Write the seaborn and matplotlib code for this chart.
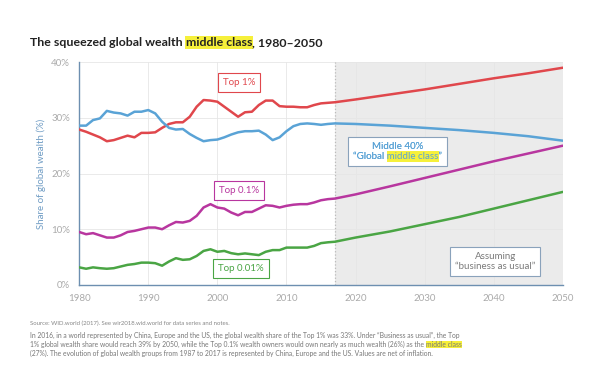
import numpy as np
import pandas as pd
import matplotlib
matplotlib.use("Agg")
import matplotlib.pyplot as plt
import seaborn as sns
from matplotlib.patches import Rectangle
from matplotlib.transforms import IdentityTransform

# data (share of global wealth, %)
years_hist = list(range(1980, 2017))
years_proj = [2017, 2020, 2025, 2030, 2035, 2040, 2045, 2050]

top1_hist = [27.9, 27.5, 27.0, 26.5, 25.8, 26.0, 26.4, 26.8, 26.5, 27.3,
             27.3, 27.4, 28.2, 28.9, 29.2, 29.2, 30.2, 32.0, 33.2, 33.1,
             32.9, 32.0, 31.1, 30.2, 31.0, 31.1, 32.3, 33.1, 33.1, 32.1,
             32.0, 32.0, 31.9, 31.9, 32.3, 32.6, 32.7]
mid40_hist = [28.6, 28.6, 29.6, 29.9, 31.25, 30.95, 30.8, 30.4, 31.1, 31.1,
              31.4, 30.8, 29.3, 28.2, 27.9, 28.0, 27.1, 26.4, 25.8, 26.0,
              26.1, 26.5, 27.0, 27.4, 27.6, 27.6, 27.7, 27.0, 26.0, 26.5,
              27.6, 28.5, 28.9, 29.0, 28.9, 28.75, 28.9]
top01_hist = [9.5, 9.1, 9.3, 8.9, 8.5, 8.5, 8.9, 9.5, 9.7, 10.0,
              10.3, 10.3, 10.0, 10.7, 11.3, 11.2, 11.5, 12.4, 13.9, 14.5,
              13.9, 13.7, 13.0, 12.5, 13.1, 13.1, 13.7, 14.3, 14.2, 13.9,
              14.2, 14.4, 14.5, 14.5, 14.8, 15.2, 15.4]
top001_hist = [3.15, 2.9, 3.15, 3.0, 2.9, 3.0, 3.3, 3.6, 3.75, 4.0,
               4.0, 3.9, 3.45, 4.2, 4.8, 4.5, 4.6, 5.2, 6.1, 6.4,
               5.95, 6.1, 5.7, 5.5, 5.65, 5.5, 5.35, 5.95, 6.25, 6.25,
               6.7, 6.7, 6.7, 6.7, 7.0, 7.5, 7.65]

top1_proj = [32.8, 33.3, 34.2, 35.1, 36.1, 37.1, 38.0, 39.0]
mid40_proj = [29.0, 28.9, 28.6, 28.2, 27.8, 27.3, 26.7, 25.9]
top01_proj = [15.5, 16.25, 17.7, 19.2, 20.7, 22.2, 23.6, 25.0]
top001_proj = [7.75, 8.5, 9.6, 10.9, 12.2, 13.7, 15.2, 16.7]

groups = ["Top 1%", "Middle 40%", "Top 0.1%", "Top 0.01%"]
colors = {"Top 1%": "#e0474c", "Middle 40%": "#5aa3d6",
          "Top 0.1%": "#b8369f", "Top 0.01%": "#4aa544"}

years = years_hist + years_proj
series = {
    "Top 1%": top1_hist + top1_proj,
    "Middle 40%": mid40_hist + mid40_proj,
    "Top 0.1%": top01_hist + top01_proj,
    "Top 0.01%": top001_hist + top001_proj,
}
df = pd.concat([pd.DataFrame({"year": years, "share": v, "group": g})
                for g, v in series.items()], ignore_index=True)

sns.set_style("white")
plt.rcParams["font.family"] = ["Lato", "DejaVu Sans"]

fig = plt.figure(figsize=(6, 3.7), dpi=100)
ax = fig.add_axes([0.132, 0.23, 0.806, 0.602])

# shaded projection area
ax.axvspan(2017, 2050, color="#ebebeb", zorder=0, lw=0)
ax.axvline(2017, color="#bbbbbb", ls=":", lw=0.9, zorder=1)

sns.lineplot(data=df, x="year", y="share", hue="group", hue_order=groups,
             palette=colors, lw=1.8, legend=False, ax=ax, zorder=3)

ax.set_xlim(1980, 2050)
ax.set_ylim(0, 40)
ax.set_xticks(range(1980, 2051, 10))
ax.set_yticks(range(0, 41, 10))
ax.set_yticklabels([f"{v}%" for v in range(0, 41, 10)])
ax.grid(True, color="#e6e6e6", lw=0.6, zorder=0)
ax.set_axisbelow(True)
for s in ["top", "right"]:
    ax.spines[s].set_visible(False)
for s in ["left", "bottom"]:
    ax.spines[s].set_color("#6d8fb0")
    ax.spines[s].set_linewidth(1.0)
ax.tick_params(axis="both", colors="#6d8fb0", labelcolor="#aaaaaa",
               labelsize=7, length=3, width=0.8, direction="out")
ax.set_xlabel("")
ax.set_ylabel("Share of global wealth (%)", color="#6f9cc4", fontsize=7)

# series labels
def box_label(x, y, text, color, edge, z=5):
    return ax.text(x, y, text, color=color, fontsize=7, ha="center", va="center",
                   zorder=z, linespacing=1.2,
                   bbox=dict(boxstyle="square,pad=0.5", fc="white", ec=edge, lw=0.8))

box_label(2003.1, 36.3, "Top 1%", "#e0474c", "#e0474c")
box_label(2003.1, 17.0, "Top 0.1%", "#b8369f", "#b8369f")
box_label(2003.4, 2.9, "Top 0.01%", "#4aa544", "#4aa544")
box_label(2040.2, 4.2, "Assuming\n\u201cbusiness as usual\u201d", "#7a7a7a", "#8aa2bb")
mid_text = "Middle 40%\n\u201cGlobal middle class\u201d"
mid = box_label(2026.1, 24.0, mid_text, "#5aa3d6", "#8aa2bb")
# same text again on top of the highlight, without its box
ax.text(2026.1, 24.0, mid_text, color="#5aa3d6", fontsize=7, ha="center",
        va="center", zorder=7, linespacing=1.2)

renderer = fig.canvas.get_renderer()

def width_of(s, **kw):
    t = fig.text(0, 0, s, **kw)
    w = t.get_window_extent(renderer).width
    t.remove()
    return w

# highlight "middle class" inside the middle box (second line)
mb = mid.get_window_extent(renderer)
line2 = "\u201cGlobal middle class\u201d"
full_w = width_of(line2, fontsize=7)
pre_w = width_of("\u201cGlobal ", fontsize=7)
mc_w = width_of("middle class", fontsize=7)
lx = mb.x0 + (mb.width - full_w) / 2
ax.add_artist(Rectangle((lx + pre_w, mb.y0 - 1), mc_w, mb.height / 2 + 1,
                        transform=IdentityTransform(), fc="#f6f03a", ec="none",
                        zorder=6))

W, H = fig.bbox.width, fig.bbox.height

# title with highlighted words
tx, ty = 30 / 600, 1 - 46 / 370
t1 = fig.text(tx, ty, "The squeezed global wealth ", fontsize=8.9, fontweight="bold",
              color="#222222", va="baseline")
w1 = t1.get_window_extent(renderer)
t2 = fig.text(w1.x1 / W, ty, "middle class", fontsize=8.9, fontweight="bold",
              color="#222222", va="baseline",
              bbox=dict(boxstyle="square,pad=0.05", fc="#f6f03a", ec="none"))
w2 = t2.get_window_extent(renderer)
fig.text(w2.x1 / W, ty, ", 1980\u20132050", fontsize=8.9, fontweight="bold",
         color="#222222", va="baseline")

# footnotes
fig.text(30 / 600, 1 - 325 / 370,
         "Source: WID.world (2017). See wir2018.wid.world for data series and notes.",
         fontsize=4.3, color="#888888", va="baseline")
notes = [
    "In 2016, in a world represented by China, Europe and the US, the global wealth share of the Top 1% was 33%. "
    "Under \u201cBusiness as usual\u201d, the Top",
    "1% global wealth share would reach 39% by 2050, while the Top 0.1% wealth owners would own nearly as much "
    "wealth (26%) as the ",
    "(27%). The evolution of global wealth groups from 1987 to 2017 is represented by China, Europe and the US. "
    "Values are net of inflation.",
]
for i, line in enumerate(notes):
    yy = 1 - (338 + i * 9) / 370
    tt = fig.text(30 / 600, yy, line, fontsize=4.9, color="#777777", va="baseline")
    if i == 1:
        ew = tt.get_window_extent(renderer)
        fig.text(ew.x1 / W, yy, "middle class", fontsize=4.9, color="#777777",
                 va="baseline", bbox=dict(boxstyle="square,pad=0.05", fc="#f6f03a", ec="none"))

fig.savefig("out.png", dpi=100)
